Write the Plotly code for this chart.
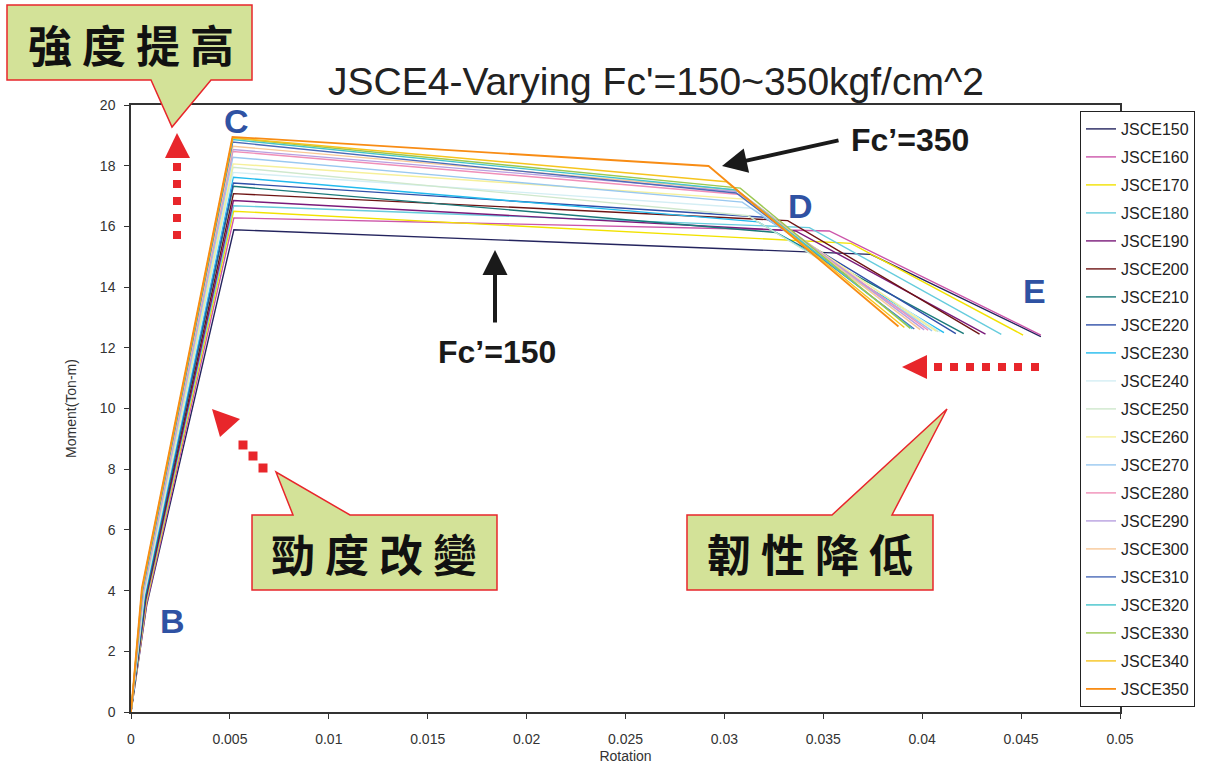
import plotly.graph_objects as go

# ---------------- data ----------------
fc_values = [150, 160, 170, 180, 190, 200, 210, 220, 230, 240, 250,
             260, 270, 280, 290, 300, 310, 320, 330, 340, 350]
series_names = [f"JSCE{v}" for v in fc_values]

# point B (cracking)
b_rot = [0.00080, 0.00079, 0.00077, 0.00075, 0.00074, 0.00072, 0.00071, 0.00069, 0.00068, 0.00066, 0.00065,
         0.00064, 0.00063, 0.00061, 0.00060, 0.00059, 0.00058, 0.00057, 0.00056, 0.00056, 0.00055]
b_mom = [3.55, 3.58, 3.62, 3.65, 3.68, 3.71, 3.74, 3.77, 3.80, 3.83, 3.85,
         3.88, 3.90, 3.93, 3.95, 3.97, 4.00, 4.02, 4.04, 4.06, 4.08]
# point C (peak)
c_rot = [0.00520, 0.00520, 0.00519, 0.00519, 0.00518, 0.00518, 0.00517, 0.00517, 0.00517, 0.00516, 0.00516,
         0.00516, 0.00515, 0.00515, 0.00515, 0.00515, 0.00514, 0.00514, 0.00514, 0.00514, 0.00513]
c_mom = [15.89, 16.28, 16.50, 16.68, 16.85, 17.08, 17.32, 17.43, 17.62, 17.78, 17.95,
         18.06, 18.28, 18.47, 18.53, 18.64, 18.78, 18.86, 18.91, 18.92, 18.95]
# point D
d_rot = [0.0374, 0.0353, 0.0364, 0.0343, 0.0336, 0.0332, 0.0326, 0.0320, 0.0317, 0.0314, 0.0312,
         0.0310, 0.0309, 0.0308, 0.0307, 0.0306, 0.0306, 0.0306, 0.0308, 0.0301, 0.0292]
d_mom = [15.08, 15.85, 15.44, 15.96, 15.85, 16.19, 15.80, 16.30, 16.15, 16.60, 16.35,
         16.90, 16.80, 17.05, 17.15, 17.20, 17.10, 17.20, 17.26, 17.47, 17.99]
# point E
e_rot = [0.0460, 0.0460, 0.0451, 0.0440, 0.0432, 0.0429, 0.0421, 0.0417, 0.0411, 0.0409, 0.0408,
         0.0407, 0.0405, 0.0403, 0.0401, 0.0399, 0.0396, 0.0395, 0.0394, 0.0391, 0.0388]
e_mom = [12.37, 12.42, 12.42, 12.44, 12.45, 12.45, 12.47, 12.47, 12.50, 12.52, 12.53,
         12.55, 12.56, 12.58, 12.59, 12.60, 12.62, 12.63, 12.64, 12.67, 12.70]

colors = ["#24245e", "#cc55aa", "#f2e200", "#66ccdd", "#7a1a7a", "#6e1414", "#1a7a7a",
          "#2f4fa8", "#22bbee", "#d4eef4", "#cfe8cc", "#f6f09a", "#99c8f0", "#f08fb8",
          "#b8a0e0", "#f8c898", "#4a6ab8", "#44c4cc", "#9cc850", "#f6c41e", "#f88c14"]

# ---------------- figure ----------------
W, H = 1208, 767
L, R, T, B = 131, 88, 105, 55
PW, PH = W - L - R, H - T - B


def px(x):
    return (x - L) / PW


def py(y):
    return (H - B - y) / PH


fig = go.Figure()
for i, name in enumerate(series_names):
    fig.add_trace(go.Scatter(
        x=[0, b_rot[i], c_rot[i], d_rot[i], e_rot[i]],
        y=[0, b_mom[i], c_mom[i], d_mom[i], e_mom[i]],
        mode="lines", name=name, legendgroup=name,
        line=dict(color=colors[i], width=1.4 if i < 20 else 1.8),
    ))

RED = "#e8262b"
GREEN = "#d3e298"
BLUE = "#2f52a3"

shapes = []


def path_shape(points, fill, line_color, lw=1.5):
    d = "M " + " L ".join(f"{px(x):.5f},{py(y):.5f}" for x, y in points) + " Z"
    return dict(type="path", path=d, xref="paper", yref="paper",
                fillcolor=fill, line=dict(color=line_color, width=lw), layer="above")


def square(cx, cy, s=8):
    return dict(type="rect", xref="paper", yref="paper",
                x0=px(cx - s / 2), x1=px(cx + s / 2), y0=py(cy + s / 2), y1=py(cy - s / 2),
                fillcolor=RED, line=dict(width=0), layer="above")


# callout boxes
shapes.append(path_shape([(7, 5), (252, 5), (252, 80), (211, 80), (172, 127), (151, 80), (7, 80)], GREEN, RED))
shapes.append(path_shape([(252, 515), (293, 515), (276, 472), (350, 515), (497, 515), (497, 590), (252, 590)], GREEN, RED))
shapes.append(path_shape([(687, 515), (832, 515), (947, 409), (892, 515), (933, 515), (933, 590), (687, 590)], GREEN, RED))

# red dotted arrow (up)
for yy in [167, 184, 201, 218, 235]:
    shapes.append(square(177, yy))
shapes.append(path_shape([(165, 158), (190, 158), (177, 133)], RED, RED, 0))

# red dotted arrow (diagonal, up-left)
for cx, cy in [(263, 468), (253, 456), (243, 445)]:
    shapes.append(square(cx, cy, 9))
shapes.append(path_shape([(212, 409), (220, 437), (240, 419)], RED, RED, 0))

# red dotted arrow (left)
for cx in [938, 954, 970, 986, 1002, 1018, 1035]:
    shapes.append(square(cx, 367))
shapes.append(path_shape([(902, 367), (927, 355), (927, 379)], RED, RED, 0))

annotations = []


def text(t, x, y, size, color="#111", bold=False, family="Liberation Sans, Arial, sans-serif"):
    annotations.append(dict(text=f"<b>{t}</b>" if bold else t, x=px(x), y=py(y),
                            xref="paper", yref="paper", showarrow=False,
                            xanchor="center", yanchor="middle",
                            font=dict(size=size, color=color, family=family)))


CJK = "Noto Sans CJK TC, Noto Sans CJK SC, sans-serif"
text("強 度 提 高", 131, 44, 44, "#111", True, CJK)
text("勁 度 改 變", 374, 553, 44, "#111", True, CJK)
text("韌 性 降 低", 810, 553, 44, "#111", True, CJK)

text("C", 236, 121, 34, BLUE, True)
text("D", 800, 206, 34, BLUE, True)
text("E", 1034, 291, 34, BLUE, True)
text("B", 172, 621, 34, BLUE, True)

text("Fc\u2019=350", 910, 140, 32, "#1a1a1a", True)
text("Fc\u2019=150", 497, 352, 32, "#1a1a1a", True)

# black arrows
annotations.append(dict(x=px(722), y=py(166), xref="paper", yref="paper", ax=118, ay=-26,
                        showarrow=True, arrowhead=2, arrowsize=1.25, arrowwidth=4,
                        arrowcolor="#1a1a1a", text=""))
annotations.append(dict(x=px(495), y=py(250), xref="paper", yref="paper", ax=0, ay=74,
                        showarrow=True, arrowhead=2, arrowsize=1.25, arrowwidth=4,
                        arrowcolor="#1a1a1a", text=""))

AX = "#333333"
fig.update_layout(
    width=W, height=H, autosize=False,
    margin=dict(l=L, r=R, t=T, b=B, autoexpand=False),
    paper_bgcolor="white", plot_bgcolor="white",
    font=dict(family="Liberation Sans, Arial, sans-serif", color="#222"),
    title=dict(text="JSCE4-Varying Fc'=150~350kgf/cm^2", x=px(656), xref="paper",
               y=1 - 81 / H, yref="container", xanchor="center", yanchor="middle",
               font=dict(size=39, color="#222")),
    xaxis=dict(range=[0, 0.05], dtick=0.005, tick0=0, ticks="outside", ticklen=5,
               tickcolor=AX, showline=True, linecolor=AX, linewidth=1.5, mirror=True,
               showgrid=False, zeroline=False, ticklabelstandoff=8, automargin=False,
               tickfont=dict(size=14, color="#333"),
               title=dict(text="Rotation", font=dict(size=14, color="#333"), standoff=6)),
    yaxis=dict(range=[0, 20], dtick=2, ticks="outside", ticklen=5,
               tickcolor=AX, showline=True, linecolor=AX, linewidth=1.5, mirror=True,
               showgrid=False, zeroline=False, ticklabelstandoff=6, automargin=False,
               tickfont=dict(size=14, color="#333"),
               title=dict(text="Moment(Ton-m)", font=dict(size=14, color="#333"), standoff=20)),
    legend=dict(x=px(1080), y=py(111), xanchor="left", yanchor="top",
                bgcolor="white", bordercolor="#222", borderwidth=1,
                font=dict(size=16, color="#222"), tracegroupgap=4.2,
                itemwidth=30),
    showlegend=True,
    shapes=shapes,
    annotations=annotations,
)

fig.write_html("out.html", config={"displayModeBar": False},
               post_script="document.body.style.margin='0';")
